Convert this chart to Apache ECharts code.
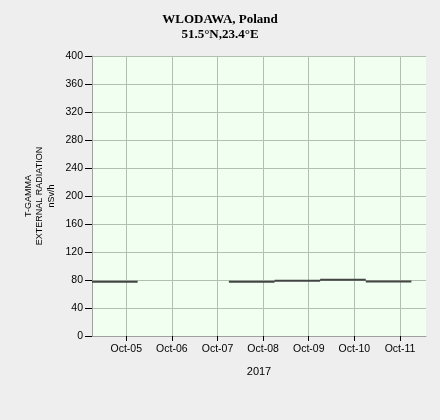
<!DOCTYPE html>
<html>
<head>
<meta charset="utf-8">
<script src="https://cdn.jsdelivr.net/npm/echarts@6/dist/echarts.min.js"></script>
<style>
  html, body { margin: 0; padding: 0; background: #eeeeee; }
  #chart { width: 440px; height: 420px; }
</style>
</head>
<body>
<div id="chart"></div>
<script>
// daily averages, each drawn from 06:00 to 06:00 of the next day
const segmentStarts = ['2017-10-04', '2017-10-07', '2017-10-08', '2017-10-09', '2017-10-10']
const dailyValues = [77.5, 77.5, 79, 80.5, 78]
const tickDays = ['2017-10-05', '2017-10-06', '2017-10-07', '2017-10-08', '2017-10-09', '2017-10-10', '2017-10-11']
const tickLabels = ['Oct-05', 'Oct-06', 'Oct-07', 'Oct-08', 'Oct-09', 'Oct-10', 'Oct-11']

const DAY = 86400000
const base = Date.UTC(2017, 9, 4)

// x position in days since Oct-04 00:00
function toDay(day, hour) {
  const [y, m, d] = day.split('-').map(Number)
  return (Date.UTC(y, m - 1, d) - base) / DAY + (hour || 0) / 24
}

// build segments with breaks between them
const lineData = []
segmentStarts.forEach((day, i) => {
  const x0 = toDay(day, 6)
  lineData.push([x0, dailyValues[i]])
  lineData.push([x0 + 1, dailyValues[i]])
  lineData.push([x0 + 1, '-'])
})

const tickPos = tickDays.map(d => toDay(d))

const chart = echarts.init(document.getElementById('chart'))

const font = 'Liberation Sans'

const option = {
  backgroundColor: '#eeeeee',
  animation: false,
  graphic: [
    {
      type: 'text',
      x: 220,
      y: 12,
      style: {
        text: 'WLODAWA, Poland\n51.5°N,23.4°E',
        align: 'center',
        verticalAlign: 'top',
        fontFamily: 'Liberation Serif',
        fontWeight: 'bold',
        fontSize: 13,
        lineHeight: 15,
        fill: '#000'
      }
    },
    {
      type: 'text',
      x: 40,
      y: 196,
      rotation: Math.PI / 2,
      style: {
        text: 'T-GAMMA\nEXTERNAL RADIATION\nnSv/h',
        align: 'center',
        verticalAlign: 'middle',
        fontFamily: font,
        fontSize: 9,
        lineHeight: 11.5,
        fill: '#000'
      }
    }
  ],
  grid: {
    left: 92,
    right: 14,
    top: 56,
    bottom: 84,
    show: true,
    backgroundColor: '#f0fff0',
    borderWidth: 0
  },
  xAxis: {
    type: 'value',
    min: 0.25,
    max: 7.57,
    name: '2017',
    nameLocation: 'middle',
    nameGap: 30,
    nameTextStyle: { fontFamily: font, fontSize: 11, color: '#000' },
    axisLine: { lineStyle: { color: '#a0a0a0' } },
    axisTick: {
      customValues: tickPos,
      length: 5,
      lineStyle: { color: '#000' }
    },
    axisLabel: {
      customValues: tickPos,
      fontFamily: font,
      fontSize: 10.5,
      color: '#000',
      margin: 8,
      formatter: (v) => tickLabels[tickPos.indexOf(v)] || ''
    },
    splitLine: { show: true, lineStyle: { color: '#b0c0b0' } }
  },
  yAxis: {
    type: 'value',
    min: 0,
    max: 400,
    interval: 40,
    axisLine: { show: true, lineStyle: { color: '#a0a0a0' } },
    axisTick: { show: true, length: 7, lineStyle: { color: '#000' } },
    axisLabel: {
      fontFamily: font,
      fontSize: 10.5,
      color: '#000',
      margin: 9
    },
    splitLine: { show: true, lineStyle: { color: '#b0c0b0' } }
  },
  series: [{
    type: 'line',
    data: lineData,
    showSymbol: false,
    connectNulls: false,
    lineStyle: { color: '#444', width: 2 }
  }]
}

chart.setOption(option)
</script>
</body>
</html>
